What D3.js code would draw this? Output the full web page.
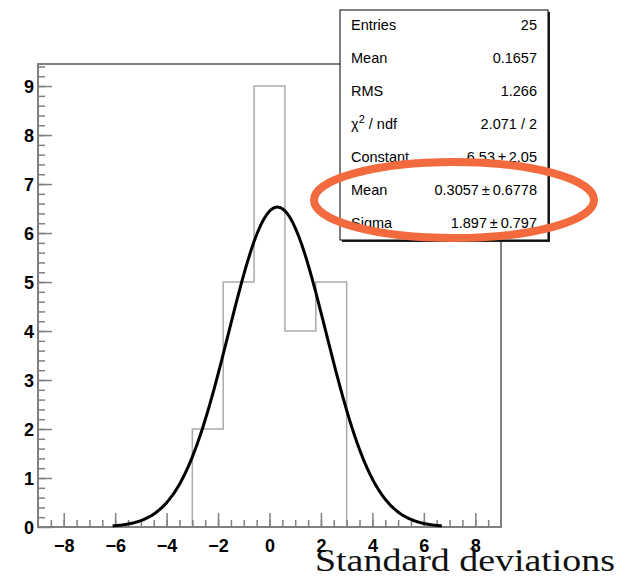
<!DOCTYPE html>
<html>
<head>
<meta charset="utf-8">
<script src="https://cdn.jsdelivr.net/npm/d3@7.9.0/dist/d3.min.js"></script>
<style>
  body { margin: 0; background: #fff; }
  svg { display: block; }
  .tick text { font-family: "Liberation Sans", Arial, sans-serif; font-weight: bold; font-size: 18px; fill: #000; }
  .stats text { font-family: "Liberation Sans", Arial, sans-serif; font-size: 14.5px; fill: #000; }
</style>
</head>
<body>
<div id="chart"></div>
<script>
// histogram: 5 bins starting at -3, width 1.2
const binStart = -3;
const binWidth = 1.2;
const counts = [2, 5, 9, 4, 5];

// gaussian fit parameters
const fitConstant = 6.53;
const fitMean = 0.3057;
const fitSigma = 1.897;
const fitRange = [-6.1, 6.7];

const xTicks = [-8, -6, -4, -2, 0, 2, 4, 6, 8];
const yTicks = [0, 1, 2, 3, 4, 5, 6, 7, 8, 9];

const statLabels = ['Entries', 'Mean', 'RMS', 'chi2', 'Constant', 'Mean', 'Sigma'];
const statValues = ['25', '0.1657', '1.266', '2.071 / 2', '6.53\u2009\u00b1\u20092.05', '0.3057\u2009\u00b1\u20090.6778', '1.897\u2009\u00b1\u20090.797'];

const width = 633;
const height = 578;
const frame = { left: 38, right: 501, top: 64, bottom: 527 };

const svg = d3.select('#chart')
  .append('svg')
  .attr('width', width)
  .attr('height', height);

const xScale = d3.scaleLinear().domain([-9, 9]).range([frame.left, frame.right]);
const yScale = d3.scaleLinear().domain([0, 9.45]).range([frame.bottom, frame.top]);

// frame
svg.append('rect')
  .attr('x', frame.left)
  .attr('y', frame.top)
  .attr('width', frame.right - frame.left)
  .attr('height', frame.bottom - frame.top)
  .attr('fill', 'none')
  .attr('stroke', '#808080')
  .attr('stroke-width', 2);

// histogram outline (step shape only)
const bins = counts.map((c, i) => ({ x0: binStart + i * binWidth, x1: binStart + (i + 1) * binWidth, n: c }));
const histPts = [[bins[0].x0, 0]];
bins.forEach((b) => { histPts.push([b.x0, b.n]); histPts.push([b.x1, b.n]); });
histPts.push([bins[bins.length - 1].x1, 0]);
svg.append('path')
  .attr('d', d3.line().x((d) => xScale(d[0])).y((d) => yScale(d[1]))(histPts))
  .attr('fill', 'none')
  .attr('stroke', '#aaaaaa')
  .attr('stroke-width', 1.5);

// axes
const xAxis = svg.append('g')
  .attr('transform', `translate(0, ${frame.bottom})`)
  .call(d3.axisBottom(xScale).tickValues(xTicks).tickSize(-14).tickPadding(10).tickFormat(d3.format('d')));
const xMinor = svg.append('g')
  .attr('transform', `translate(0, ${frame.bottom})`)
  .call(d3.axisBottom(xScale).tickValues(d3.range(-8.5, 9, 0.5)).tickSize(-7).tickFormat(''));
const yAxis = svg.append('g')
  .attr('transform', `translate(${frame.left}, 0)`)
  .call(d3.axisLeft(yScale).tickValues(yTicks).tickSize(-14).tickPadding(4).tickFormat(d3.format('d')));
const yMinor = svg.append('g')
  .attr('transform', `translate(${frame.left}, 0)`)
  .call(d3.axisLeft(yScale).tickValues(d3.range(0.2, 9.41, 0.2)).tickSize(-7).tickFormat(''));
[xAxis, xMinor, yAxis, yMinor].forEach((g) => {
  g.select('.domain').remove();
  g.selectAll('.tick line').attr('stroke', '#808080').attr('stroke-width', 1.5);
});
xAxis.selectAll('.tick text').attr('dy', '0.85em');
yAxis.selectAll('.tick text').attr('dy', '0.36em');

// gaussian fit curve
const fitX = d3.range(fitRange[0], fitRange[1] + 0.001, 0.05);
const gauss = (x) => fitConstant * Math.exp(-0.5 * ((x - fitMean) / fitSigma) ** 2);
svg.append('path')
  .attr('d', d3.line().x((d) => xScale(d)).y((d) => yScale(gauss(d))).curve(d3.curveBasis)(fitX))
  .attr('fill', 'none')
  .attr('stroke', '#000')
  .attr('stroke-width', 3);

// stats box
const box = { x: 340, y: 10, w: 208, h: 230 };
const stats = svg.append('g').attr('class', 'stats');
stats.append('rect')
  .attr('x', box.x + 2).attr('y', box.y + 2)
  .attr('width', box.w).attr('height', box.h)
  .attr('fill', '#222');
stats.append('rect')
  .attr('x', box.x).attr('y', box.y)
  .attr('width', box.w).attr('height', box.h)
  .attr('fill', '#fff')
  .attr('stroke', '#000')
  .attr('stroke-width', 1);
const rowY = d3.scalePoint().domain(d3.range(statLabels.length)).range([30, 228]);
statLabels.forEach((lab, i) => {
  const t = stats.append('text').attr('x', 351).attr('y', rowY(i));
  if (lab === 'chi2') {
    t.append('tspan').text('\u03c7');
    t.append('tspan').attr('dy', -6).attr('font-size', '11px').text('2');
    t.append('tspan').attr('dy', 6).text(' / ndf');
  } else {
    t.text(lab);
  }
  stats.append('text')
    .attr('x', 537).attr('y', rowY(i))
    .attr('text-anchor', 'end')
    .text(statValues[i]);
});

// highlight ellipse
svg.append('ellipse')
  .attr('cx', 454)
  .attr('cy', 200)
  .attr('rx', 140)
  .attr('ry', 38)
  .attr('fill', 'none')
  .attr('stroke', '#f26a3d')
  .attr('stroke-width', 8);

// x axis title
svg.append('text')
  .attr('x', 615)
  .attr('y', 571)
  .attr('text-anchor', 'end')
  .attr('font-family', '"Liberation Serif", "DejaVu Serif", serif')
  .attr('font-size', 32)
  .attr('textLength', 300)
  .attr('lengthAdjust', 'spacingAndGlyphs')
  .attr('fill', '#111')
  .text('Standard deviations');
</script>
</body>
</html>
